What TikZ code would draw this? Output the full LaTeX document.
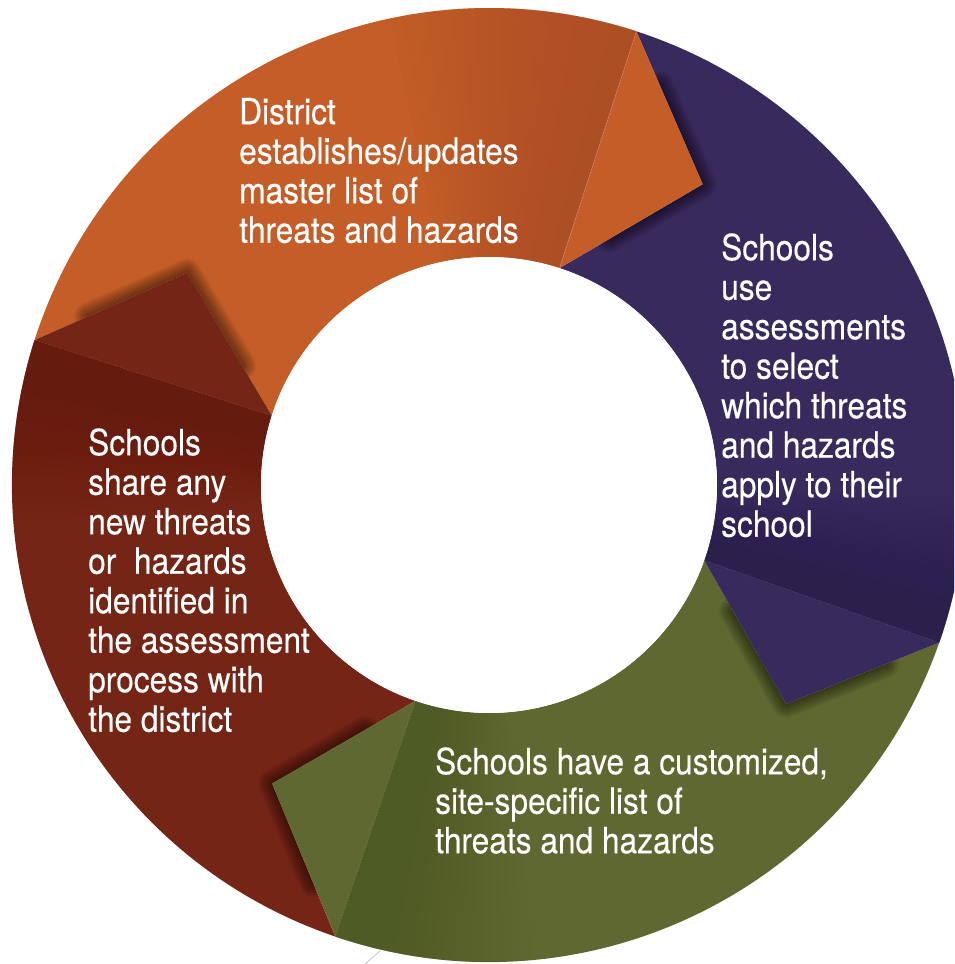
\documentclass[tikz,border=0pt]{standalone}
\usepackage{fontspec}
\usetikzlibrary{calc}
\newfontfamily\labfont[FakeStretch=0.88,FakeBold=0.3]{TeX Gyre Heros}
\definecolor{oC}{RGB}{196,93,40}
\definecolor{oD}{RGB}{170,79,37}
\definecolor{pC}{RGB}{56,42,92}
\definecolor{pD}{RGB}{43,32,75}
\definecolor{gC}{RGB}{94,104,48}
\definecolor{gD}{RGB}{79,91,37}
\definecolor{rC}{RGB}{116,37,22}
\definecolor{rD}{RGB}{101,28,15}
\def\Ro{477pt}\def\Ri{228pt}\def\Rt{369pt}
% body of a segment: start angle, end angle, tip angle of the incoming arrow (notch)
\newcommand\bodypath[3]{(#1:\Ro) arc[start angle=#1, end angle=#2, radius=\Ro] -- (#2:\Ri) arc[start angle=#2, end angle=#1, radius=\Ri] -- (#3:\Rt) -- cycle}
% arrow head: boundary angle, tip angle
\newcommand\headpath[2]{(#1:\Ro) -- (#2:\Rt) -- (#1:\Ri) -- cycle}
\newcommand\darkband[3]{%
  \foreach \k in {1,...,20}{\fill[#3, opacity=0.055] (#1:\Ro) arc[start angle=#1, end angle={#1+#2*\k/20}, radius=\Ro] -- ({#1+#2*\k/20}:\Ri) arc[start angle={#1+#2*\k/20}, end angle=#1, radius=\Ri] -- cycle;}}
\newcommand\tipshadow[3]{%
  \begin{scope}
    \clip \bodypath{#1}{#2}{#3};
    \foreach \w in {2,4,...,28}{\draw[black, opacity=0.035, line width=\w pt, line cap=round, line join=round] ($(#1:\Ro)!0.35!(#3:\Rt)$) -- (#3:\Rt) -- ($(#1:\Ri)!0.35!(#3:\Rt)$);}
  \end{scope}}
\begin{document}
\begin{tikzpicture}[
  lab/.style={anchor=north west, inner sep=0pt, align=left, text=white,
    font=\labfont\fontsize{36}{39.5}\selectfont}]
\useasboundingbox (0,0) rectangle (954pt,-964pt);
\fill[white] (0,0) rectangle (954pt,-964pt);
\begin{scope}
\clip (0,0) rectangle (954pt,-964pt);
\begin{scope}[shift={(489pt,-485pt)}]
  % segment bodies
  \fill[oC] \bodypath{162.3}{72}{144.9};
  \fill[pC] \bodypath{72}{-19.3}{54.6};
  \fill[gC] \bodypath{-19.3}{-108.8}{-36.4};
  \fill[rC] \bodypath{-108.8}{-197.7}{-126};
  % darker fold near each body's end
  \darkband{72}{30}{oD}
  \darkband{-19.3}{18}{pD}
  \darkband{-108.8}{24}{gD}
  \darkband{-197.7}{22}{rD}
  % shadows cast by arrow heads
  \tipshadow{72}{-19.3}{54.6}
  \tipshadow{-19.3}{-108.8}{-36.4}
  \tipshadow{-108.8}{-197.7}{-126}
  \tipshadow{162.3}{72}{144.9}
  % arrow heads
  \fill[oC] \headpath{72}{54.6};
  \fill[pC] \headpath{-19.3}{-36.4};
  \fill[gC] \headpath{-108.8}{-126};
  \fill[rC] \headpath{162.3}{144.9};
  \draw[white, opacity=0.2, line width=0.6pt] (72:\Ro) -- (72:\Ri);
  % hole
  \fill[white] (0,0) circle[radius=\Ri];
\end{scope}
\end{scope}
\draw[gray!35, line width=1.2pt] (380pt,-951pt) -- (365pt,-964pt);
% labels
\node[lab] (t1) at (239pt,-96pt) {\rule{0pt}{28pt}District\\establishes/updates\\master list of\\threats and hazards};
\node[lab] (t2) at (721pt,-232pt) {\rule{0pt}{28pt}Schools\\use\\assessments\\to select\\which threats\\and hazards\\apply to their\\school};
\node[lab] (t3) at (88pt,-427pt) {\rule{0pt}{28pt}Schools\\share any\\new threats\\or~ hazards\\identified in\\the assessment\\process with\\the district};
\node[lab] (t4) at (435pt,-746pt) {\rule{0pt}{28pt}Schools have a customized,\\site-specific list of\\threats and hazards};
\end{tikzpicture}
\end{document}
